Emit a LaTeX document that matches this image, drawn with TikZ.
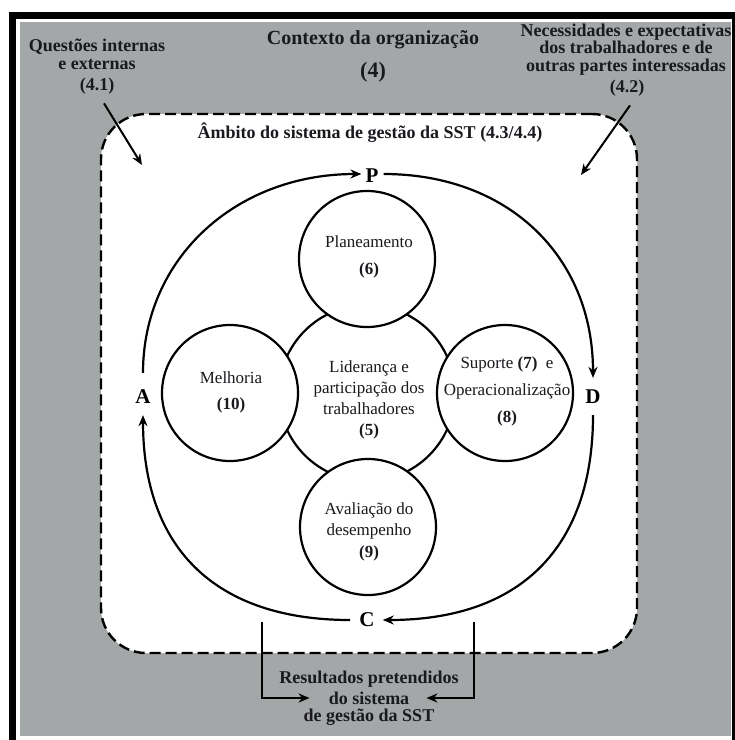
\documentclass[tikz,border=0pt]{standalone}
\usepackage{fontspec}
\setmainfont{Liberation Serif}
\usetikzlibrary{arrows.meta}
\definecolor{bggray}{RGB}{164,167,167}
\definecolor{txt}{RGB}{25,25,30}
\begin{document}
\begin{tikzpicture}[x=1pt,y=-1pt,
  toplbl/.style={font=\fontsize{18pt}{17.5pt}\selectfont\bfseries, align=center, inner sep=0pt, text=txt},
  cirtxt/.style={font=\fontsize{17pt}{21pt}\selectfont, align=center, inner sep=0pt, text=txt},
  letter/.style={font=\fontsize{21pt}{21pt}\selectfont\bfseries, inner sep=0pt, text=black},
  ring/.style={draw, line width=2.2pt, fill=white, circle, inner sep=0pt, minimum size=136pt},
  cyc/.style={line width=2.2pt, -{Stealth[length=11pt,width=9pt]}},
  arr/.style={line width=2pt, -{Stealth[length=11pt,width=9pt]}}
]
\useasboundingbox (0,0) rectangle (735,740);
% frame and background
\fill[white] (0,0) rectangle (735,740);
\fill[black] (9,12) rectangle (735,740);
\fill[white] (16,19) rectangle (732,740);
\fill[bggray] (20,22) rectangle (731,736);

% scope box
\node[draw, line width=2.4pt, dash pattern=on 11pt off 5pt, rounded corners=45pt,
  fill=white, minimum width=536pt, minimum height=539pt, inner sep=0pt] (scopebox) at (369,383.5) {};

% context labels
\node[toplbl] (qie) at (97,54.5) {Questões internas\\e externas};
\node[toplbl] (q41) at (97,86) {(4.1)};
\node[toplbl, font=\fontsize{20pt}{20pt}\selectfont\bfseries] (ctx) at (373,40) {Contexto da organização};
\node[toplbl, font=\fontsize{22pt}{22pt}\selectfont\bfseries] (ctx4) at (373,72) {(4)};
\node[toplbl] (nec) at (626,49.5) {Necessidades e expectativas\\dos trabalhadores e de\\outras partes interessadas};
\node[toplbl] (q42) at (627,88) {(4.2)};
\node[toplbl] (amb) at (370,133) {Âmbito do sistema de gestão da SST (4.3/4.4)};

\coordinate (tipL) at (142,165);
\coordinate (tipR) at (581,175);
\draw[arr] ([shift={(7,9)}]q41.south) -- (tipL);
\draw[arr] ([shift={(3,9)}]q42.south) -- (tipR);

% circles
\node[draw, line width=2.2pt, circle, inner sep=0pt, minimum size=176pt] (lead) at (367,393) {};
\node[ring] (plan) at (367,259) {};
\node[ring] (impr) at (230,393) {};
\node[ring] (supp) at (505,393) {};
\node[ring] (eval) at (368,527) {};

\node[cirtxt, font=\fontsize{17pt}{27pt}\selectfont] (tplan) at (369,256.5) {Planeamento\\\textbf{(6)}};
\node[cirtxt, font=\fontsize{17pt}{26pt}\selectfont] (timpr) at (231,392) {Melhoria\\\textbf{(10)}};
\node[cirtxt] (tlead) at (369,399.5) {Liderança e\\participação dos\\trabalhadores\\\textbf{(5)}};
\node[cirtxt, font=\fontsize{17pt}{27pt}\selectfont] (tsupp) at (507,391) {Suporte \textbf{(7)}\enspace e\\Operacionalização\\\textbf{(8)}};
\node[cirtxt, font=\fontsize{17pt}{21.5pt}\selectfont] (teval) at (369,531.5) {Avaliação do\\desempenho\\\textbf{(9)}};

% PDCA letters
\node[letter] (P) at (372,176) {P};
\node[letter] (D) at (593,397) {D};
\node[letter] (C) at (367,620) {C};
\node[letter] (A) at (143,397) {A};

\draw[cyc] ([yshift=17pt]A.north) .. controls +(0,-114) and +(-126,0) .. ([xshift=-4pt,yshift=2pt]P.west);
\draw[cyc] ([xshift=5pt,yshift=2pt]P.east) .. controls +(125,0) and +(0,-121) .. ([yshift=12pt]D.north);
\draw[cyc] ([yshift=-11pt]D.south) .. controls +(0,133) and +(137,0) .. ([xshift=8pt]C.east);
\draw[cyc] ([xshift=-9pt]C.west) .. controls +(-135,0) and +(0,133) .. ([yshift=-11pt]A.south);

% intended outcomes
\node[toplbl] (res1) at (369,679) {Resultados pretendidos};
\node[toplbl] (res2) at (369,698) {do sistema};
\node[toplbl] (res3) at (369,717) {de gestão da SST};
\coordinate (bl) at (262,622);
\coordinate (br) at (474,622);
\draw[arr] (bl) |- ([xshift=-19pt]res2.west);
\draw[arr] (br) |- ([xshift=17pt]res2.east);
\end{tikzpicture}
\end{document}
